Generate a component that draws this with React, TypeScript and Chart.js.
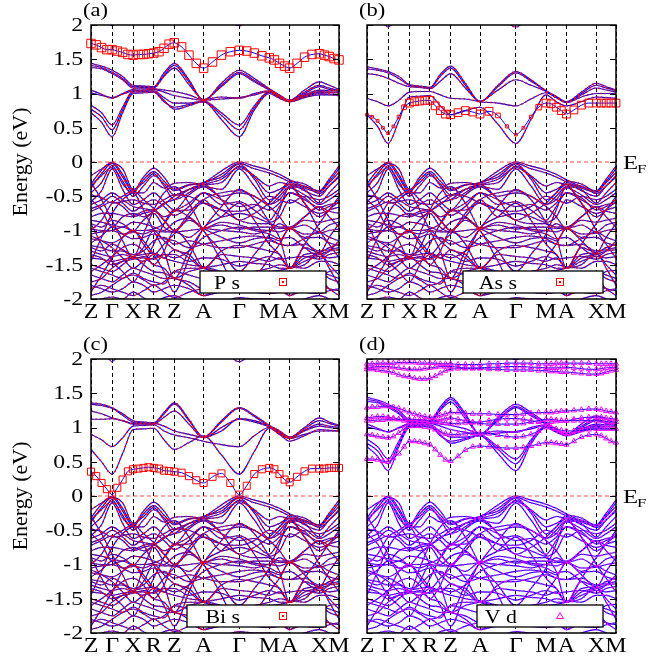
import React, { useEffect, useRef } from 'react';
import { Chart, registerables } from 'chart.js';
Chart.register(...registerables);

const FONT = '"Liberation Serif", "Times New Roman", serif';

// High-symmetry path
const kLabels = ['Z', 'Γ', 'X', 'R', 'Z', 'A', 'Γ', 'M', 'A', 'X', 'M'];
const kHS = [0, 0.085, 0.17, 0.253, 0.336, 0.454, 0.598, 0.719, 0.801, 0.921, 1.0];
const kGrid = [0, 0.0425, 0.085, 0.1275, 0.17, 0.2115, 0.253, 0.2945, 0.336, 0.395, 0.454, 0.526, 0.598, 0.6585, 0.719, 0.76, 0.801, 0.861, 0.921, 0.9605, 1.0];
const kFine = [0, 0.021, 0.0425, 0.064, 0.085, 0.106, 0.1275, 0.149, 0.17, 0.191, 0.2115, 0.232, 0.253, 0.274, 0.2945, 0.315, 0.336, 0.3655, 0.395, 0.4245, 0.454, 0.49, 0.526, 0.562, 0.598, 0.628, 0.6585, 0.689, 0.719, 0.7395, 0.76, 0.7805, 0.801, 0.831, 0.861, 0.891, 0.921, 0.941, 0.9605, 0.98, 1.0];

const yTicks = [2, 1.5, 1, 0.5, 0, -0.5, -1, -1.5, -2];
const yTickLabels = ['2', '1.5', '1', '0.5', '0', '-0.5', '-1', '-1.5', '-2'];

// Valence bands (eV) at kGrid
const valence: number[][] = [
  [-0.32, -0.12, 0.00, -0.18, -0.42, -0.22, -0.09, -0.22, -0.40, -0.33, -0.30, -0.13, 0.00, -0.06, -0.12, -0.18, -0.26, -0.36, -0.42, -0.25, -0.06],
  [-0.38, -0.17, -0.02, -0.22, -0.44, -0.26, -0.14, -0.28, -0.42, -0.34, -0.31, -0.18, -0.02, -0.10, -0.16, -0.22, -0.29, -0.38, -0.44, -0.28, -0.10],
  [-0.45, -0.30, -0.05, -0.32, -0.45, -0.45, -0.30, -0.38, -0.31, -0.30, -0.33, -0.30, -0.06, -0.20, -0.35, -0.30, -0.33, -0.35, -0.46, -0.35, -0.20],
  [-0.58, -0.42, -0.10, -0.40, -0.62, -0.55, -0.45, -0.58, -0.70, -0.48, -0.36, -0.40, -0.10, -0.35, -0.62, -0.50, -0.36, -0.40, -0.60, -0.45, -0.30],
  [-0.62, -0.55, -0.45, -0.55, -0.65, -0.68, -0.70, -0.62, -0.50, -0.40, -0.36, -0.50, -0.45, -0.50, -0.62, -0.55, -0.38, -0.48, -0.62, -0.55, -0.45],
  [-0.72, -0.65, -0.58, -0.65, -0.78, -0.72, -0.70, -0.80, -0.72, -0.60, -0.45, -0.62, -0.58, -0.70, -0.85, -0.65, -0.45, -0.55, -0.66, -0.62, -0.60],
  [-0.80, -0.75, -0.75, -0.78, -0.80, -0.75, -0.72, -0.85, -1.00, -0.75, -0.55, -0.80, -0.75, -0.80, -0.88, -0.80, -0.55, -0.65, -0.75, -0.70, -0.66],
  [-0.90, -0.95, -0.85, -0.90, -1.00, -1.00, -0.98, -0.90, -0.72, -0.70, -0.60, -0.70, -0.85, -0.90, -0.90, -0.95, -0.95, -0.80, -0.65, -0.72, -0.75],
  [-0.98, -1.00, -1.00, -1.05, -1.02, -0.85, -0.75, -0.95, -1.02, -1.00, -0.97, -0.92, -0.98, -0.95, -0.95, -0.97, -0.97, -0.92, -1.02, -0.92, -0.88],
  [-1.05, -1.02, -1.00, -0.95, -1.02, -1.05, -1.00, -1.02, -1.02, -1.10, -0.97, -1.00, -1.02, -1.05, -1.00, -1.02, -0.97, -1.05, -1.04, -1.00, -0.98],
  [-1.12, -1.15, -1.18, -1.10, -1.00, -1.20, -1.35, -1.20, -1.05, -0.85, -0.97, -1.10, -1.18, -1.12, -1.10, -1.15, -0.97, -1.10, -1.02, -1.10, -1.15],
  [-1.22, -1.25, -1.30, -1.30, -1.38, -1.25, -1.00, -1.15, -1.28, -1.35, -1.55, -1.30, -1.22, -1.25, -1.30, -1.35, -1.55, -1.25, -1.32, -1.25, -1.20],
  [-1.30, -1.35, -1.38, -1.35, -1.40, -1.45, -1.35, -1.40, -1.28, -1.40, -1.55, -1.35, -1.38, -1.40, -1.45, -1.40, -1.55, -1.40, -1.35, -1.30, -1.28],
  [-1.40, -1.42, -1.45, -1.42, -1.40, -1.40, -1.50, -1.55, -1.70, -1.60, -1.55, -1.50, -1.45, -1.48, -1.50, -1.55, -1.55, -1.45, -1.38, -1.40, -1.38],
  [-1.50, -1.55, -1.60, -1.50, -1.38, -1.35, -1.33, -1.40, -1.45, -1.50, -1.53, -1.60, -1.65, -1.60, -1.55, -1.50, -1.53, -1.55, -1.45, -1.45, -1.50],
  [-1.65, -1.70, -1.75, -1.65, -1.55, -1.60, -1.65, -1.70, -1.70, -1.80, -1.95, -1.80, -1.75, -1.70, -1.65, -1.75, -1.95, -1.75, -1.60, -1.65, -1.70],
  [-1.80, -1.85, -1.90, -1.85, -1.75, -1.80, -1.90, -1.85, -1.80, -1.85, -1.95, -1.90, -1.90, -1.85, -1.80, -1.85, -1.95, -1.85, -1.80, -1.85, -1.88],
  [-0.30, -0.55, -0.85, -1.15, -1.40, -1.05, -0.70, -0.45, -0.36, -0.60, -1.00, -1.30, -1.60, -1.35, -1.05, -0.70, -0.36, -0.60, -1.00, -1.20, -1.40],
  [-1.45, -1.10, -0.75, -0.55, -0.45, -0.70, -1.00, -1.30, -1.70, -1.30, -0.97, -0.65, -0.40, -0.55, -0.88, -1.10, -1.55, -1.20, -0.90, -0.70, -0.58],
  [-1.90, -1.65, -1.40, -1.10, -1.00, -1.15, -1.35, -1.60, -1.90, -1.40, -0.97, -0.80, -0.60, -0.85, -1.20, -1.35, -1.55, -1.35, -1.33, -1.55, -1.80],
  [-0.90, -1.20, -1.45, -1.60, -1.75, -1.50, -1.20, -0.90, -0.70, -0.80, -1.00, -1.45, -1.90, -1.70, -1.40, -1.20, -0.97, -1.15, -1.33, -1.10, -0.90],
  [-0.55, -0.70, -0.95, -0.80, -0.75, -0.80, -0.72, -0.60, -0.55, -0.40, -0.33, -0.55, -0.85, -0.75, -0.60, -0.45, -0.33, -0.60, -0.80, -0.70, -0.50],
  [-1.60, -1.50, -1.38, -1.25, -1.20, -1.30, -1.50, -1.30, -1.00, -1.20, -1.55, -1.60, -1.70, -1.60, -1.60, -1.58, -1.55, -1.50, -1.33, -1.50, -1.65],
  [-2.05, -2.00, -1.97, -2.00, -1.90, -1.98, -2.05, -1.98, -1.95, -2.05, -2.10, -2.05, -1.98, -2.00, -2.00, -2.05, -2.10, -2.00, -1.95, -2.00, -2.05],
  [-0.20, -0.10, -0.02, -0.10, -0.40, -0.30, -0.17, -0.35, -0.55, -0.45, -0.30, -0.22, -0.03, -0.25, -0.55, -0.45, -0.28, -0.32, -0.43, -0.30, -0.15],
  [-1.00, -0.85, -0.60, -0.50, -0.42, -0.55, -0.68, -0.85, -1.00, -0.80, -0.55, -0.45, -0.42, -0.50, -0.65, -0.80, -0.97, -0.80, -0.66, -0.80, -0.95],
  [-1.25, -1.30, -1.20, -1.28, -1.35, -1.30, -1.15, -1.10, -1.20, -1.15, -1.20, -1.25, -1.25, -1.20, -1.15, -1.20, -1.22, -1.20, -1.30, -1.28, -1.25],
  [-1.75, -1.70, -1.55, -1.45, -1.38, -1.50, -1.60, -1.62, -1.70, -1.75, -1.85, -1.80, -1.78, -1.75, -1.75, -1.70, -1.85, -1.65, -1.60, -1.70, -1.75],
  [-0.35, -0.20, -0.08, -0.28, -0.50, -0.35, -0.20, -0.32, -0.48, -0.40, -0.33, -0.25, -0.08, -0.22, -0.45, -0.40, -0.32, -0.42, -0.50, -0.35, -0.22],
  [-0.68, -0.62, -0.50, -0.60, -0.72, -0.62, -0.55, -0.65, -0.78, -0.65, -0.45, -0.55, -0.65, -0.62, -0.70, -0.60, -0.45, -0.52, -0.70, -0.65, -0.55],
  [-0.85, -0.88, -0.92, -0.95, -0.88, -0.90, -0.95, -1.00, -0.88, -0.82, -0.97, -0.88, -0.92, -0.98, -1.00, -0.90, -0.97, -0.85, -0.88, -0.85, -0.82],
  [-1.18, -1.08, -0.95, -1.05, -1.12, -1.10, -1.05, -1.12, -1.15, -1.25, -1.20, -1.15, -1.10, -1.08, -1.12, -1.20, -1.22, -1.12, -1.10, -1.18, -1.22],
  [-1.35, -1.40, -1.50, -1.45, -1.42, -1.38, -1.42, -1.35, -1.35, -1.45, -1.40, -1.42, -1.52, -1.45, -1.38, -1.42, -1.40, -1.38, -1.42, -1.35, -1.32],
  [-1.55, -1.60, -1.65, -1.70, -1.62, -1.70, -1.75, -1.78, -1.60, -1.65, -1.70, -1.68, -1.60, -1.65, -1.70, -1.65, -1.70, -1.72, -1.68, -1.60, -1.58],
  [-1.85, -1.80, -1.85, -1.90, -1.95, -1.88, -1.80, -1.90, -1.98, -1.90, -1.85, -1.88, -1.85, -1.90, -1.92, -1.90, -1.85, -1.90, -1.92, -1.88, -1.85],
  [-0.48, -0.52, -0.60, -0.58, -0.55, -0.60, -0.62, -0.55, -0.48, -0.50, -0.60, -0.70, -0.72, -0.65, -0.50, -0.55, -0.60, -0.50, -0.55, -0.50, -0.40],
  [-1.08, -1.15, -1.25, -1.40, -1.55, -1.45, -1.40, -1.35, -1.40, -1.30, -1.10, -1.00, -0.95, -1.00, -1.05, -1.12, -1.10, -1.25, -1.38, -1.30, -1.15],
  [-1.95, -1.90, -1.80, -1.70, -1.65, -1.72, -1.80, -1.75, -1.60, -1.55, -1.55, -1.65, -1.80, -1.82, -1.85, -1.80, -1.75, -1.78, -1.72, -1.85, -1.95],
];

// Conduction bands at kGrid
const condA: number[][] = [
  [2.40, 2.20, 1.99, 2.20, 2.40, 2.40, 2.40, 2.40, 2.40, 2.30, 2.20, 2.15, 1.99, 2.15, 2.30, 2.40, 2.40, 2.40, 2.40, 2.40, 2.40],
  [1.44, 1.40, 1.34, 1.25, 1.12, 1.11, 1.10, 1.30, 1.44, 1.20, 0.90, 1.15, 1.34, 1.22, 1.07, 0.98, 0.90, 1.05, 1.17, 1.12, 1.06],
  [1.41, 1.38, 1.31, 1.22, 1.10, 1.10, 1.09, 1.27, 1.41, 1.17, 0.90, 1.12, 1.31, 1.19, 1.06, 0.97, 0.89, 1.02, 1.12, 1.08, 1.04],
  [1.38, 1.36, 1.29, 1.20, 1.08, 1.09, 1.08, 1.25, 1.37, 1.13, 0.91, 1.10, 1.29, 1.17, 1.05, 0.96, 0.90, 1.00, 1.10, 1.06, 1.03],
  [1.05, 0.99, 0.93, 1.00, 1.06, 1.07, 1.07, 1.05, 1.03, 0.98, 0.91, 0.95, 0.93, 1.00, 1.04, 0.96, 0.90, 0.98, 1.05, 1.04, 1.05],
  [1.01, 0.97, 0.94, 0.99, 1.04, 1.05, 1.06, 1.02, 0.97, 0.93, 0.90, 0.92, 0.94, 0.98, 1.03, 0.95, 0.89, 0.97, 1.03, 1.02, 1.02],
  [0.83, 0.72, 0.54, 0.80, 1.04, 1.04, 1.04, 0.94, 0.86, 0.86, 0.89, 0.72, 0.54, 0.82, 1.03, 0.95, 0.89, 0.96, 1.02, 1.01, 1.01],
  [0.77, 0.66, 0.47, 0.76, 1.02, 1.03, 1.03, 0.90, 0.77, 0.82, 0.88, 0.68, 0.47, 0.79, 1.02, 0.94, 0.88, 0.95, 1.00, 0.99, 0.99],
  [0.72, 0.58, 0.37, 0.72, 1.00, 1.01, 1.02, 0.88, 0.80, 0.84, 0.88, 0.62, 0.37, 0.76, 1.00, 0.93, 0.88, 0.94, 0.98, 0.98, 0.97],
];
const condB: number[][] = [
  [2.40, 2.20, 1.97, 2.20, 2.40, 2.40, 2.40, 2.40, 2.40, 2.30, 2.20, 2.15, 1.97, 2.15, 2.30, 2.40, 2.40, 2.40, 2.40, 2.40, 2.40],
  [1.39, 1.36, 1.32, 1.25, 1.13, 1.11, 1.09, 1.28, 1.40, 1.15, 0.88, 1.12, 1.32, 1.20, 1.04, 0.96, 0.88, 1.02, 1.15, 1.10, 1.05],
  [1.36, 1.34, 1.30, 1.22, 1.12, 1.10, 1.08, 1.25, 1.37, 1.12, 0.88, 1.10, 1.30, 1.18, 1.04, 0.95, 0.87, 1.00, 1.12, 1.08, 1.04],
  [1.29, 1.27, 1.22, 1.15, 1.10, 1.09, 1.07, 1.18, 1.29, 1.08, 0.89, 1.05, 1.20, 1.12, 1.03, 0.94, 0.87, 0.98, 1.08, 1.05, 1.02],
  [0.93, 0.88, 0.82, 0.90, 1.02, 1.03, 1.03, 0.98, 0.93, 0.92, 0.88, 0.86, 0.82, 0.92, 1.01, 0.94, 0.87, 0.95, 1.00, 1.00, 1.00],
  [0.69, 0.52, 0.27, 0.60, 0.95, 0.96, 0.97, 0.82, 0.69, 0.75, 0.80, 0.55, 0.27, 0.62, 0.98, 0.88, 0.82, 0.88, 0.95, 0.94, 0.93],
];
const condC: number[][] = [
  [2.40, 2.20, 1.96, 2.20, 2.40, 2.40, 2.40, 2.40, 2.40, 2.30, 2.20, 2.15, 1.96, 2.15, 2.30, 2.40, 2.40, 2.40, 2.40, 2.40, 2.40],
  [1.36, 1.34, 1.29, 1.20, 1.10, 1.08, 1.07, 1.22, 1.36, 1.12, 0.86, 1.10, 1.29, 1.18, 1.03, 0.95, 0.86, 1.00, 1.14, 1.08, 1.03],
  [1.34, 1.32, 1.28, 1.18, 1.08, 1.07, 1.06, 1.20, 1.34, 1.10, 0.86, 1.08, 1.28, 1.16, 1.02, 0.94, 0.85, 0.98, 1.10, 1.06, 1.02],
  [1.24, 1.20, 1.14, 1.10, 1.05, 1.05, 1.05, 1.15, 1.24, 1.05, 0.85, 1.00, 1.12, 1.08, 1.01, 0.92, 0.84, 0.96, 1.05, 1.02, 1.00],
  [0.90, 0.82, 0.72, 0.85, 1.02, 1.03, 1.04, 0.95, 0.89, 0.85, 0.80, 0.75, 0.72, 0.88, 1.00, 0.90, 0.80, 0.88, 0.97, 0.96, 0.95],
  [0.68, 0.50, 0.32, 0.62, 0.97, 0.98, 0.99, 0.82, 0.68, 0.78, 0.88, 0.60, 0.32, 0.65, 0.99, 0.90, 0.84, 0.90, 0.95, 0.95, 0.95],
  [1.12, 1.12, 1.13, 1.10, 1.06, 1.06, 1.06, 1.02, 0.95, 0.90, 0.86, 0.95, 1.13, 1.10, 1.02, 0.95, 0.86, 0.95, 1.02, 1.00, 0.98],
];

// Projected (marked) bands at kFine
const psBand = [1.73, 1.71, 1.67, 1.64, 1.64, 1.62, 1.60, 1.57, 1.56, 1.57, 1.57, 1.58, 1.59, 1.61, 1.66, 1.72, 1.74, 1.68, 1.56, 1.44, 1.37, 1.46, 1.56, 1.61, 1.63, 1.62, 1.59, 1.55, 1.52, 1.49, 1.44, 1.40, 1.37, 1.44, 1.53, 1.57, 1.58, 1.56, 1.54, 1.51, 1.49];
const assBand = [0.69, 0.66, 0.60, 0.50, 0.42, 0.52, 0.66, 0.80, 0.86, 0.88, 0.89, 0.90, 0.90, 0.82, 0.75, 0.70, 0.69, 0.72, 0.75, 0.73, 0.70, 0.74, 0.68, 0.52, 0.40, 0.50, 0.66, 0.80, 0.86, 0.85, 0.80, 0.75, 0.70, 0.76, 0.83, 0.86, 0.86, 0.86, 0.86, 0.86, 0.86];
const assWeight = [0.35, 0.35, 0.35, 0.35, 0.35, 0.35, 0.4, 0.6, 1, 1, 1, 1, 1, 1, 1, 1, 1, 1, 1, 1, 1, 1, 0.6, 0.4, 0.35, 0.35, 0.4, 0.7, 1, 1, 1, 1, 1, 1, 1, 1, 1, 1, 1, 1, 1];
const bisBand = [0.355, 0.29, 0.19, 0.10, 0.02, 0.12, 0.24, 0.36, 0.39, 0.40, 0.41, 0.42, 0.41, 0.40, 0.37, 0.365, 0.355, 0.34, 0.29, 0.23, 0.19, 0.28, 0.33, 0.19, 0.02, 0.15, 0.32, 0.39, 0.41, 0.39, 0.32, 0.24, 0.20, 0.28, 0.36, 0.40, 0.40, 0.40, 0.41, 0.41, 0.41];
const vdBands: number[][] = [
  [1.93, 1.93, 1.94, 1.94, 1.94, 1.94, 1.95, 1.95, 1.95, 1.95, 1.94, 1.94, 1.94, 1.94, 1.93, 1.93, 1.93, 1.92, 1.92, 1.92, 1.92, 1.93, 1.93, 1.94, 1.94, 1.94, 1.94, 1.93, 1.93, 1.93, 1.94, 1.94, 1.94, 1.94, 1.94, 1.94, 1.93, 1.93, 1.93, 1.93, 1.93],
  [1.88, 1.88, 1.89, 1.89, 1.89, 1.88, 1.87, 1.86, 1.85, 1.85, 1.85, 1.86, 1.87, 1.88, 1.89, 1.89, 1.89, 1.88, 1.87, 1.87, 1.87, 1.88, 1.88, 1.89, 1.89, 1.89, 1.88, 1.88, 1.87, 1.87, 1.87, 1.88, 1.88, 1.87, 1.86, 1.85, 1.85, 1.86, 1.87, 1.88, 1.88],
  [1.85, 1.85, 1.84, 1.83, 1.82, 1.80, 1.77, 1.75, 1.74, 1.72, 1.71, 1.71, 1.72, 1.75, 1.79, 1.83, 1.85, 1.86, 1.86, 1.86, 1.86, 1.85, 1.85, 1.84, 1.84, 1.84, 1.84, 1.83, 1.83, 1.82, 1.82, 1.81, 1.81, 1.80, 1.79, 1.78, 1.78, 1.79, 1.81, 1.83, 1.84],
  [1.29, 1.30, 1.30, 1.31, 1.31, 1.30, 1.28, 1.25, 1.22, 1.20, 1.18, 1.16, 1.15, 1.16, 1.18, 1.20, 1.22, 1.22, 1.21, 1.20, 1.20, 1.20, 1.19, 1.19, 1.19, 1.20, 1.21, 1.22, 1.22, 1.22, 1.23, 1.24, 1.24, 1.25, 1.26, 1.27, 1.27, 1.26, 1.24, 1.23, 1.22],
  [1.10, 1.10, 1.11, 1.11, 1.12, 1.12, 1.12, 1.12, 1.12, 1.12, 1.11, 1.11, 1.10, 1.09, 1.08, 1.07, 1.06, 1.06, 1.07, 1.07, 1.06, 1.05, 1.05, 1.05, 1.05, 1.06, 1.08, 1.10, 1.12, 1.12, 1.11, 1.10, 1.10, 1.10, 1.10, 1.10, 1.10, 1.10, 1.09, 1.08, 1.08],
  [1.14, 1.15, 1.16, 1.16, 1.15, 1.14, 1.12, 1.10, 1.08, 1.08, 1.08, 1.08, 1.09, 1.10, 1.12, 1.13, 1.14, 1.12, 1.10, 1.08, 1.08, 1.10, 1.12, 1.13, 1.13, 1.12, 1.10, 1.08, 1.07, 1.08, 1.09, 1.10, 1.10, 1.12, 1.14, 1.15, 1.15, 1.15, 1.14, 1.13, 1.12],
  [0.90, 0.89, 0.87, 0.86, 0.85, 0.87, 0.92, 0.98, 1.02, 1.02, 1.02, 1.01, 1.00, 0.97, 0.94, 0.91, 0.90, 0.90, 0.91, 0.92, 0.92, 0.91, 0.89, 0.87, 0.86, 0.87, 0.90, 0.95, 1.00, 1.00, 0.98, 0.96, 0.95, 0.95, 0.96, 0.97, 0.98, 0.98, 0.98, 0.98, 0.98],
  [0.54, 0.54, 0.53, 0.51, 0.50, 0.55, 0.62, 0.72, 0.80, 0.80, 0.79, 0.77, 0.75, 0.68, 0.60, 0.53, 0.51, 0.58, 0.67, 0.72, 0.73, 0.72, 0.71, 0.70, 0.70, 0.71, 0.73, 0.76, 0.78, 0.78, 0.77, 0.76, 0.75, 0.80, 0.86, 0.89, 0.90, 0.88, 0.84, 0.80, 0.78],
];

const BLUE = '#0000ff';
const RED = '#ff0000';
const MAGENTA = '#ff00ff';

type Marked = { values: number[]; weights?: number[] };
type PanelSpec = {
  label: string; left: number; top: number; width: number; height: number;
  padTop: number; padRight: number; axisW: number; axisH: number; showY: boolean;
  bands: number[][]; dotColor: string; marked: Marked[];
  markerStyle: 'rect' | 'triangle'; markerColor: string; markerRadius: number;
  legendText: string; legendWidth: number; showEF: boolean;
};

const panels: PanelSpec[] = [
  { label: '(a)', left: 0, top: 0, width: 350, height: 335, padTop: 25, padRight: 11, axisW: 91, axisH: 36, showY: true,
    bands: [...condA, ...valence], dotColor: RED, marked: [{ values: psBand }], markerStyle: 'rect', markerColor: RED, markerRadius: 6,
    legendText: 'P s', legendWidth: 126, showEF: false },
  { label: '(b)', left: 350, top: 0, width: 315, height: 335, padTop: 25, padRight: 49, axisW: 17, axisH: 36, showY: false,
    bands: [...condB, ...valence], dotColor: RED, marked: [{ values: assBand, weights: assWeight }], markerStyle: 'rect', markerColor: RED, markerRadius: 5.5,
    legendText: 'As s', legendWidth: 140, showEF: true },
  { label: '(c)', left: 0, top: 335, width: 350, height: 327, padTop: 24, padRight: 11, axisW: 91, axisH: 29, showY: true,
    bands: [...condC, ...valence], dotColor: RED, marked: [{ values: bisBand }], markerStyle: 'rect', markerColor: RED, markerRadius: 5,
    legendText: 'Bi s', legendWidth: 139, showEF: false },
  { label: '(d)', left: 350, top: 335, width: 315, height: 327, padTop: 24, padRight: 49, axisW: 17, axisH: 29, showY: false,
    bands: [...condA, ...valence], dotColor: MAGENTA, marked: vdBands.map((v) => ({ values: v })), markerStyle: 'triangle', markerColor: MAGENTA, markerRadius: 3,
    legendText: 'V d', legendWidth: 126, showEF: true },
];

const toPts = (ks: number[], vs: number[]) => vs.map((v, i) => ({ x: ks[i], y: v }));

// Text drawn with a horizontal stretch (the original figure's fonts are wide)
function sText(ctx: CanvasRenderingContext2D, text: string, x: number, y: number, size: number, sx: number,
  align: 'left' | 'right' | 'center', baseline: CanvasTextBaseline) {
  ctx.save();
  ctx.font = `${size}px ${FONT}`;
  ctx.textAlign = 'left';
  ctx.textBaseline = baseline;
  ctx.fillStyle = '#000';
  const w = ctx.measureText(text).width * sx;
  const x0 = align === 'left' ? x : align === 'right' ? x - w : x - w / 2;
  ctx.translate(x0, y);
  ctx.scale(sx, 1);
  ctx.fillText(text, 0, 0);
  ctx.restore();
  return w;
}

function makeDecor(p: PanelSpec) {
  return {
    id: 'decor',
    afterDatasetsDraw(chart: any) {
      const { ctx, chartArea: a, scales } = chart;
      const ys = scales.y;
      const xs = scales.x;
      ctx.save();
      ctx.setLineDash([]);
      // inward ticks
      ctx.strokeStyle = '#000';
      ctx.lineWidth = 1;
      for (const v of yTicks) {
        const py = Math.round(ys.getPixelForValue(v)) + 0.5;
        ctx.beginPath();
        ctx.moveTo(a.left, py); ctx.lineTo(a.left + 6, py);
        ctx.moveTo(a.right, py); ctx.lineTo(a.right - 6, py);
        ctx.stroke();
      }
      // frame
      ctx.lineWidth = 1.5;
      ctx.strokeRect(a.left, a.top, a.right - a.left, a.bottom - a.top);
      // tick labels
      if (p.showY) {
        yTicks.forEach((v, i) => sText(ctx, yTickLabels[i], a.left - 8, ys.getPixelForValue(v) + 1, 19, 1.25, 'right', 'middle'));
      }
      kHS.forEach((v, i) => sText(ctx, kLabels[i], xs.getPixelForValue(v), a.bottom + 18.5, 20, 1.2, 'center', 'alphabetic'));
      // legend box
      const bw = p.legendWidth, bh = 22;
      const bx = a.right - 13 - bw, by = a.bottom - 28;
      ctx.fillStyle = '#fff';
      ctx.fillRect(bx, by, bw, bh);
      ctx.lineWidth = 1.3;
      ctx.strokeStyle = '#000';
      ctx.strokeRect(bx, by, bw, bh);
      sText(ctx, p.legendText, a.right - 99, a.bottom - 10, 19, 1.15, 'right', 'alphabetic');
      const mx = a.right - 56, my = by + bh / 2;
      ctx.strokeStyle = p.markerColor;
      ctx.lineWidth = 1;
      if (p.markerStyle === 'rect') {
        ctx.strokeRect(mx - 3.5, my - 3.5, 7, 7);
        ctx.fillStyle = p.markerColor;
        ctx.fillRect(mx - 1, my - 1, 2, 2);
      } else {
        ctx.beginPath();
        ctx.moveTo(mx, my - 3.5); ctx.lineTo(mx + 3.5, my + 2.5); ctx.lineTo(mx - 3.5, my + 2.5); ctx.closePath();
        ctx.stroke();
      }
      // panel label
      sText(ctx, p.label, a.left - 8, a.top - 9, 18, 1.25, 'left', 'alphabetic');
      // E_F label
      if (p.showEF) {
        const y0 = ys.getPixelForValue(0);
        const w = sText(ctx, 'E', a.right + 7, y0 + 6.5, 19, 1.3, 'left', 'alphabetic');
        sText(ctx, 'F', a.right + 7 + w - 1, y0 + 11, 13, 1.3, 'left', 'alphabetic');
      }
      ctx.restore();
    },
  };
}

function buildConfig(p: PanelSpec): any {
  const datasets: any[] = [];
  datasets.push({
    data: [{ x: 0, y: 0 }, { x: 1, y: 0 }], borderColor: 'rgba(255,40,40,0.85)', borderWidth: 1.2, borderDash: [4, 3],
    pointRadius: 0, cubicInterpolationMode: 'default', tension: 0, order: 0,
  });
  for (const m of p.marked) {
    datasets.push({
      data: toPts(kFine, m.values), borderColor: BLUE, borderWidth: 1, pointStyle: p.markerStyle,
      pointRadius: m.weights ? m.weights.map((w) => w * p.markerRadius) : p.markerRadius,
      pointBorderColor: p.markerColor, pointBackgroundColor: 'rgba(0,0,0,0)', pointBorderWidth: 1,
      clip: false, order: 1,
    });
  }
  for (const b of p.bands) {
    datasets.push({ data: toPts(kGrid, b), borderColor: p.dotColor, borderWidth: 1.5, borderDash: [1.5, 3], pointRadius: 0, order: 2 });
  }
  for (const b of p.bands) {
    datasets.push({ data: toPts(kGrid, b), borderColor: BLUE, borderWidth: 1.1, pointRadius: 0, order: 3 });
  }
  return {
    type: 'line',
    data: { datasets },
    options: {
      responsive: false,
      animation: false,
      events: [],
      layout: { padding: { left: 0, right: p.padRight, top: p.padTop, bottom: 0 } },
      elements: { line: { cubicInterpolationMode: 'monotone' }, point: { radius: 0 } },
      plugins: { legend: { display: false }, tooltip: { enabled: false }, title: { display: false } },
      scales: {
        x: {
          type: 'linear', min: 0, max: 1,
          afterFit: (s: any) => { s.height = p.axisH; },
          afterBuildTicks: (s: any) => { s.ticks = kHS.map((v) => ({ value: v })); },
          ticks: { display: false, autoSkip: false, maxRotation: 0, minRotation: 0 },
          grid: { color: '#000', lineWidth: 1, drawTicks: false, drawOnChartArea: true },
          border: { display: false, dash: [4, 3] },
        },
        y: {
          type: 'linear', min: -2, max: 2,
          afterFit: (s: any) => { s.width = p.axisW; },
          afterBuildTicks: (s: any) => { s.ticks = yTicks.map((v) => ({ value: v })); },
          ticks: { display: false },
          grid: { display: false },
          border: { display: false },
          title: {
            display: p.showY, text: 'Energy (eV)', color: '#000',
            font: { family: FONT, size: 22 }, padding: { top: 8, bottom: 0 },
          },
        },
      },
    },
    plugins: [makeDecor(p)],
  };
}

function Panel({ p }: { p: PanelSpec }) {
  const ref = useRef<HTMLCanvasElement>(null);
  useEffect(() => {
    const chart = new Chart(ref.current as HTMLCanvasElement, buildConfig(p));
    return () => chart.destroy();
  }, [p]);
  return (
    <canvas
      ref={ref}
      width={p.width}
      height={p.height}
      style={{ position: 'absolute', left: p.left, top: p.top, width: p.width, height: p.height }}
    />
  );
}

export default function App() {
  return (
    <div style={{ position: 'absolute', left: 0, top: 0, width: 665, height: 662, background: '#fff' }}>
      {panels.map((p) => (
        <Panel key={p.label} p={p} />
      ))}
    </div>
  );
}
